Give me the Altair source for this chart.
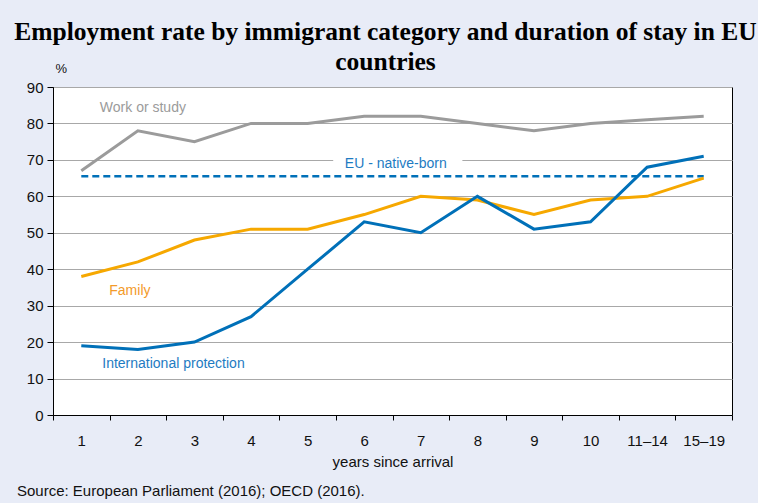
import altair as alt
import pandas as pd

categories = ["1", "2", "3", "4", "5", "6", "7", "8", "9", "10", "11–14", "15–19"]
work_or_study = [67, 78, 75, 80, 80, 82, 82, 80, 78, 80, 81, 82]
family = [38, 42, 48, 51, 51, 55, 60, 59, 55, 59, 60, 65]
intl_protection = [19, 18, 20, 27, 40, 53, 50, 60, 51, 53, 68, 71]
eu_native_born = 65.5
y_ticks = [0, 10, 20, 30, 40, 50, 60, 70, 80, 90]

BG = "#E8ECF7"
GRAY = "#9B9B9B"
ORANGE = "#F6A800"
BLUE = "#0070B8"
FONT = "Liberation Sans"

series_df = pd.DataFrame({
    "cat": categories * 3,
    "value": work_or_study + family + intl_protection,
    "series": ["Work or study"] * 12 + ["Family"] * 12 + ["International protection"] * 12,
})
native_df = pd.DataFrame({"cat": [categories[0], categories[-1]], "value": [eu_native_born] * 2})

xscale = alt.Scale(type="band", domain=categories, paddingInner=0, paddingOuter=0)
yscale = alt.Scale(domain=[0, 90], nice=False)

x_axis = alt.Axis(title="years since arrival", labelAngle=0, tickBand="extent",
                  grid=False, domainColor="black", tickColor="black", tickSize=5,
                  labelFont=FONT, labelFontSize=15, labelColor="#111", labelPadding=13,
                  labelOverlap=False,
                  titleFont=FONT, titleFontSize=15, titleFontWeight="normal",
                  titleColor="#111", titlePadding=6)
y_axis = alt.Axis(values=y_ticks, title="%", titleAngle=0,
                  titleAlign="left", titleBaseline="bottom", titleX=2, titleY=-12,
                  titleFont=FONT, titleFontSize=13, titleFontWeight="normal",
                  titleColor="#111", grid=True, gridColor="#A8A8A8",
                  domainColor="black", tickColor="black", tickSize=6,
                  labelFont=FONT, labelFontSize=15, labelColor="#111",
                  labelPadding=4, labelOverlap=False, labelFlush=False,
                  labelBound=False)

x_enc = alt.X("cat:O", scale=xscale, sort=categories, axis=x_axis)
y_enc = alt.Y("value:Q", scale=yscale, axis=y_axis)


def line(name, color):
    return alt.Chart(series_df).transform_filter(alt.datum.series == name).mark_line(
        color=color, strokeWidth=3).encode(x=x_enc, y=y_enc)


gray_line = line("Work or study", GRAY)
orange_line = line("Family", ORANGE)
blue_line = line("International protection", BLUE)

dashed = alt.Chart(native_df).mark_line(color=BLUE, strokeWidth=2.5, strokeDash=[7, 4]).encode(
    x=x_enc, y=y_enc)

gap = alt.Chart(pd.DataFrame({"cat": ["6"], "cat2": ["8"], "value": [70]})).mark_rule(
    color="white", strokeWidth=3, xOffset=-31, x2Offset=-15).encode(
    x=x_enc, x2="cat2:O", y=y_enc)

labels_df = pd.DataFrame({
    "cat": ["2", "2", "3", "7"],
    "value": [84.2, 34.1, 13.9, 68.9],
    "text": ["Work or study", "Family", "International protection", "EU - native-born"],
    "color": [GRAY, "#F39A2A", "#1E7BC2", "#1E7BC2"],
    "dx": [5, -8, -21, -25],
})


def label(i):
    row = labels_df.iloc[[i]]
    return alt.Chart(row).mark_text(font=FONT, fontSize=14, color=row["color"].iloc[0],
                                    dx=float(row["dx"].iloc[0]), align="center",
                                    baseline="middle").encode(
        x=x_enc, y=y_enc, text="text:N")


source = alt.Chart(pd.DataFrame({"t": ["Source: European Parliament (2016); OECD (2016)."]})).mark_text(
    font=FONT, fontSize=15, color="#111", align="left", baseline="alphabetic").encode(
    x=alt.value(-36), y=alt.value(409), text="t:N")

chart = alt.layer(
    gray_line, gap, dashed, orange_line, blue_line,
    label(0), label(1), label(2), label(3), source,
).properties(
    width=679, height=328,
    title=alt.TitleParams(
        text=["Employment rate by immigrant category and duration of stay in EU", "countries"],
        font="Liberation Serif", fontSize=25.5, fontWeight="bold", color="black",
        lineHeight=30, anchor="middle", frame="group", offset=-13, dx=-7),
    background=BG,
    padding={"left": 53, "top": 87, "right": 26, "bottom": 88},
    autosize=alt.AutoSizeParams(type="none"),
).configure_view(
    fill="white", stroke="black", strokeWidth=1
)

chart.save("out.html", embed_options={"renderer": "svg", "actions": False})
